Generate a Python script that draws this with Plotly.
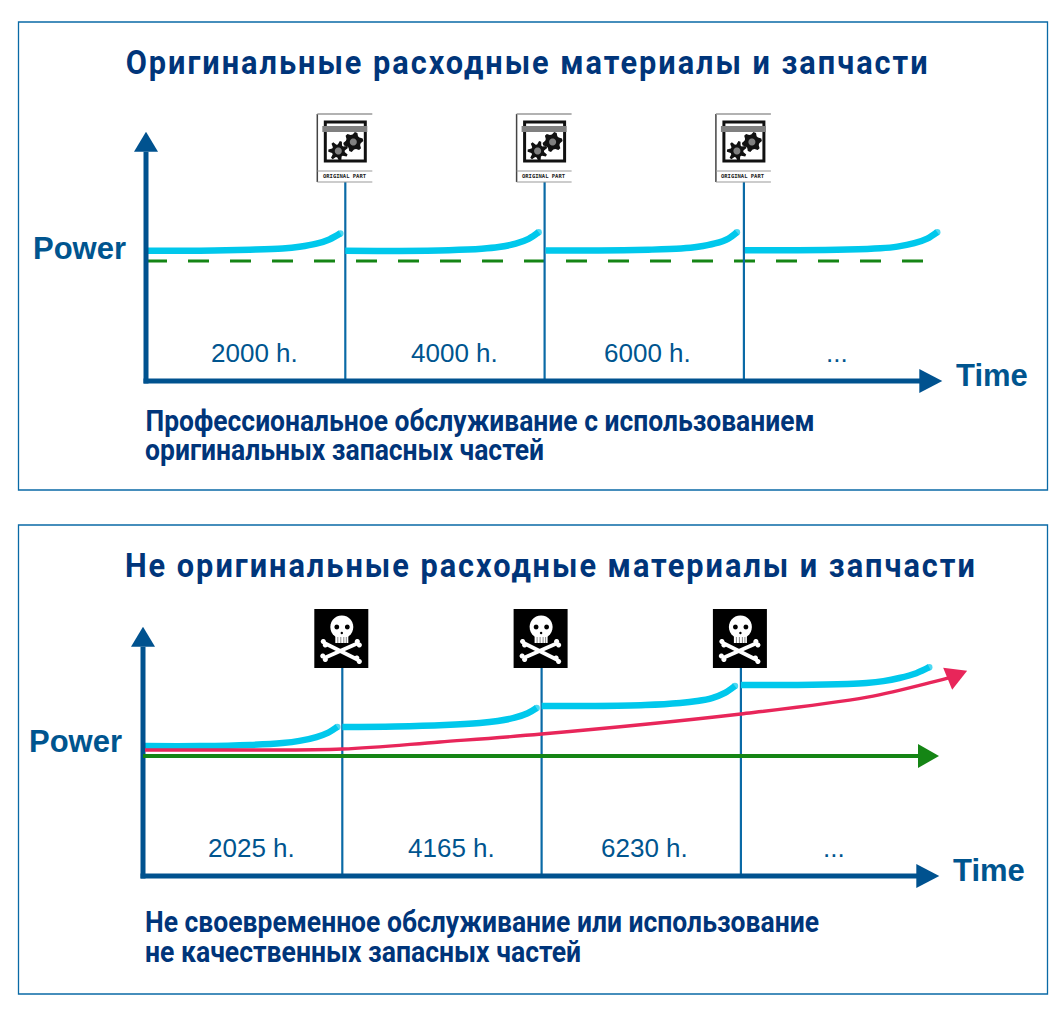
import json
import math
import plotly.graph_objects as go

W, H = 1064, 1020

# ---------- data ----------
service_hours = [2000, 4000, 6000]
axis_end = 7780
y_axis_top = 191
nominal_power = [100, 100]
nominal_hours = [0, 7860]

top_title = "Оригинальные расходные материалы и запчасти"
top_note = ["Профессиональное обслуживание с использованием", "оригинальных запасных частей"]
top_labels = ["2000 h.", "4000 h.", "6000 h.", "..."]
top_seg_hours = [
    [10, 540, 1040, 1370, 1540, 1710, 1840, 1950],
    [2000, 2540, 3040, 3370, 3540, 3710, 3840, 3940],
    [4010, 4540, 5040, 5370, 5540, 5710, 5840, 5930],
    [6010, 6540, 7040, 7370, 7540, 7710, 7840, 7940],
]
top_seg_power = [
    [108.5, 108.6, 109.4, 110.4, 111.8, 114.4, 118, 123],
    [108.5, 108.4, 109, 110.2, 111.6, 114.4, 118.4, 124],
    [108.8, 108.7, 109.4, 110.4, 111.8, 114.6, 118.5, 124],
    [109, 108.9, 109.5, 110.6, 112, 114.8, 118.6, 124],
]

bottom_title = "Не оригинальные расходные материалы и запчасти"
bottom_note = ["Не своевременное обслуживание или использование", "не качественных запасных частей"]
bottom_labels = ["2025 h.", "4165 h.", "6230 h.", "..."]
bottom_seg_hours = [
    [20, 570, 1070, 1400, 1570, 1740, 1860, 1950],
    [2000, 2530, 3030, 3380, 3560, 3730, 3860, 3950],
    [4000, 4540, 5040, 5390, 5560, 5710, 5840, 5940],
    [6000, 6570, 7070, 7260, 7430, 7590, 7760, 7890],
]
bottom_seg_power = [
    [108.3, 108.3, 109.2, 110.8, 112.6, 115.8, 119.5, 124.2],
    [124.2, 124.6, 125.8, 127.5, 129.2, 131.9, 135.6, 140],
    [141.7, 141.7, 142.5, 144.2, 145.8, 148.3, 152.6, 158.3],
    [159.2, 159.2, 160, 160.8, 162.4, 165, 169, 174],
]
red_hours = [20, 1000, 2000, 2980, 4000, 6000, 7270, 7930, 8120]
red_power = [105, 105, 105.8, 111.7, 118.3, 135, 149, 161.7, 166]
green_hours = [0, 7790]
green_power = [100, 100]
label_hours = [1084, 3100, 5028, 6934]

# ---------- colours ----------
AXIS = "#00528f"
LINE = "#0a6aa6"
CYAN = "#00c8ec"
GREEN = "#158515"
RED = "#e8265a"
NAVY = "#00357a"
TEXT = "#00558f"
SANS = "Liberation Sans, sans-serif"
HEAD = "Roboto, Liberation Sans, sans-serif"

PX_PER_HOUR = 199.3 / 2000
PX_PER_POWER = 1.2
X_RANGE = [-500, 8500]
Y_RANGE = [-30, 230]
panels = [
    dict(x0=146, base=381, xa="x", ya="y"),
    dict(x0=143, base=876, xa="x2", ya="y2"),
]


def fx(p):
    return p / W


def fy(p):
    return 1 - p / H


fig = go.Figure()
shapes = []
annotations = []


def poly(pts):
    return "M" + "L".join(f"{a:.1f},{b:.1f}" for a, b in pts) + "Z"


def circle(cx, cy, r):
    n = 28
    return poly([(cx + r * math.cos(2 * math.pi * i / n), cy + r * math.sin(2 * math.pi * i / n))
                 for i in range(n)])


def glyph(panel, hx, pw, path, fill=None, stroke=None, width=0):
    shapes.append(dict(
        type="path", xref=panel["xa"], yref=panel["ya"],
        xsizemode="pixel", ysizemode="pixel", xanchor=hx, yanchor=pw,
        path=path, fillcolor=fill or "rgba(0,0,0,0)",
        line=dict(color=stroke or "rgba(0,0,0,0)", width=width), layer="above"))


def label(panel, hx, pw, text, size, color, bold=False, family=SANS):
    annotations.append(dict(
        xref=panel["xa"], yref=panel["ya"], x=hx, y=pw, text=f"<b>{text}</b>" if bold else text,
        showarrow=False, xanchor="center", yanchor="middle",
        font=dict(family=family, size=size, color=color)))


def gear(cx, cy, r_out, r_in, teeth, rot=0):
    pts = []
    for i in range(teeth * 4):
        a = rot + i * 2 * math.pi / (teeth * 4)
        r = r_out if i % 4 in (0, 1) else r_in
        pts.append((cx + r * math.cos(a), cy + r * math.sin(a)))
    return poly(pts)


def part_icon(panel, hx):
    pw = (panel["base"] - 182) / PX_PER_POWER
    glyph(panel, hx, pw, poly([(-28, 0), (27, 0), (27, 68), (-28, 68)]), fill="#ffffff")
    glyph(panel, hx, pw, "M-28,0L-28,68", stroke="#444444", width=1.5)
    glyph(panel, hx, pw, "M-28,68L27,68", stroke="#999999", width=1.5)
    glyph(panel, hx, pw, "M-28,11L27,11", stroke="#999999", width=1.2)
    glyph(panel, hx, pw, "M-28,0L27,0", stroke="#999999", width=1.2)
    glyph(panel, hx, pw, "M-20,21L20,21L20,60L-20,60Z", stroke="#111111", width=3)
    glyph(panel, hx, pw, poly([(-23, 50), (22, 50), (22, 56), (-23, 56)]), fill="#808080")
    glyph(panel, hx, pw, gear(-7, 31, 10, 6.5, 7, 0.3), fill="#111111")
    glyph(panel, hx, pw, circle(-7, 31, 3.5), fill="#808080")
    glyph(panel, hx, pw, gear(8, 40, 10, 7.5, 6, 0.1), fill="#111111")
    glyph(panel, hx, pw, circle(8, 40, 3.5), fill="#808080")
    label(panel, hx - 0.5 / PX_PER_HOUR, pw + 5.5 / PX_PER_POWER, "ORIGINAL PART", 5.5, "#222222",
          bold=True, family="DejaVu Sans Mono, monospace")


def skull_icon(panel, hx):
    pw = (panel["base"] - 668) / PX_PER_POWER
    glyph(panel, hx, pw, poly([(-28, 0), (26, 0), (26, 59), (-28, 59)]), fill="#000000")
    for a, b in [((-18, 25), (16, 8)), ((16, 25), (-18, 10))]:
        glyph(panel, hx, pw, f"M{a[0]},{a[1]}L{b[0]},{b[1]}", stroke="#ffffff", width=4)
        for cx, cy in ((a[0] - 1, a[1] + 1.5), (a[0] + 1, a[1] - 2), (b[0] - 1.5, b[1] + 2), (b[0] + 1, b[1] - 1.5)):
            glyph(panel, hx, pw, circle(cx, cy, 2.6), fill="#ffffff")
    glyph(panel, hx, pw, circle(-0.5, 41, 11.5), fill="#ffffff")
    glyph(panel, hx, pw, poly([(-7, 25), (6, 25), (6, 34), (-7, 34)]), fill="#ffffff")
    for dx in (-4.5, -1.5, 1.5, 4):
        glyph(panel, hx, pw, f"M{dx},25L{dx},31", stroke="#888888", width=1)
    glyph(panel, hx, pw, circle(-5.5, 41, 2.4), fill="#000000")
    glyph(panel, hx, pw, circle(5, 41, 2.4), fill="#000000")
    glyph(panel, hx, pw, circle(-0.5, 35, 1.2), fill="#000000")


def line(panel, xs, ys, color, width, dash=None, spline=False, name="", end_cap=False):
    mode = "lines+markers" if end_cap else "lines"
    marker = dict(size=[0] * (len(xs) - 1) + [width], color=color, line=dict(width=0)) if end_cap else None
    fig.add_trace(go.Scatter(
        x=xs, y=ys, mode=mode, name=name, xaxis=panel["xa"], yaxis=panel["ya"],
        hoverinfo="skip", showlegend=False, cliponaxis=False, marker=marker,
        line=dict(color=color, width=width, dash=dash, shape="spline" if spline else "linear",
                  smoothing=1.0)))


def draw_panel(panel, seg_h, seg_p, labels, icon):
    for h in service_hours:
        pw_top = (panel["base"] - (182 if icon is part_icon else 668)) / PX_PER_POWER
        line(panel, [h, h], [0, pw_top], LINE, 2.2, name="service")
    for h, p in zip(seg_h, seg_p):
        line(panel, h, p, CYAN, 6.5, spline=True, name="power", end_cap=True)
    for h, t in zip(label_hours, labels):
        label(panel, h, 23, t, 26, TEXT)
    for h in service_hours:
        icon(panel, h)
    line(panel, [0, 0], [-2, y_axis_top], AXIS, 5, name="y axis")
    line(panel, [-25, axis_end], [0, 0], AXIS, 5, name="x axis")
    glyph(panel, 0, y_axis_top, poly([(-12, 0), (12, 0), (0, 20)]), fill=AXIS)
    glyph(panel, axis_end - 20, 0, poly([(0, -12), (0, 12), (23, 0)]), fill=AXIS)


p1, p2 = panels
line(p1, nominal_hours, nominal_power, GREEN, 3, dash="21px,21px", name="nominal")
draw_panel(p1, top_seg_hours, top_seg_power, top_labels, part_icon)
draw_panel(p2, bottom_seg_hours, bottom_seg_power, bottom_labels, skull_icon)
line(p2, red_hours, red_power, RED, 3.4, spline=True, name="degraded")
line(p2, green_hours, green_power, GREEN, 4, name="nominal")
glyph(p2, green_hours[1] - 13, green_power[1], poly([(0, -12), (0, 12), (21, 0)]), fill=GREEN)
glyph(p2, red_hours[-1], red_power[-1], poly([(-9, 9), (15, 6), (0, -13)]), fill=RED)


def page_text(x, y, text, size, color, family=SANS):
    annotations.append(dict(
        xref="paper", yref="paper", x=fx(x), y=fy(y), text=f"<b>{text}</b>",
        showarrow=False, xanchor="center", yanchor="middle",
        font=dict(family=family, size=size, color=color)))


# condensed headings: (centre x, centre y, text, size, fitted width, letter spacing)
headings = [
    (527, 62, top_title, 34, 804, 2.2),
    (551, 565, bottom_title, 34, 852, 2.2),
    (479.5, 421, top_note[0], 29, 669, 0),
    (344.5, 450, top_note[1], 29, 399, 0),
    (482, 922, bottom_note[0], 29, 674, 0),
    (363, 952, bottom_note[1], 29, 436, 0),
]
for cx, cy, t, s, _, _ in headings:
    page_text(cx, cy, t, s, NAVY, HEAD)

page_text(79, 248, "Power", 31, TEXT)
page_text(992, 375, "Time", 31, TEXT)
page_text(75, 741, "Power", 31, TEXT)
page_text(989, 870, "Time", 31, TEXT)

for top, bottom in [(22, 490), (525, 994)]:
    shapes.append(dict(type="rect", xref="paper", yref="paper", x0=fx(18.5), x1=fx(1047.5),
                       y0=fy(bottom), y1=fy(top), line=dict(color="#0a6aa6", width=1.3), layer="below"))


def axis_layout(panel, xname, yname):
    xa = dict(range=X_RANGE, visible=False, fixedrange=True, anchor=yname,
              domain=[fx(panel["x0"] + X_RANGE[0] * PX_PER_HOUR), fx(panel["x0"] + X_RANGE[1] * PX_PER_HOUR)])
    ya = dict(range=Y_RANGE, visible=False, fixedrange=True, anchor=xname,
              domain=[fy(panel["base"] - Y_RANGE[0] * PX_PER_POWER), fy(panel["base"] - Y_RANGE[1] * PX_PER_POWER)])
    return xa, ya


x1, y1 = axis_layout(p1, "x", "y")
x2, y2 = axis_layout(p2, "x2", "y2")

fig.update_layout(
    width=W, height=H, autosize=False, margin=dict(l=0, r=0, t=0, b=0, pad=0),
    paper_bgcolor="#ffffff", plot_bgcolor="rgba(0,0,0,0)", showlegend=False,
    xaxis=x1, yaxis=y1, xaxis2=x2, yaxis2=y2, shapes=shapes, annotations=annotations)

fit = {t: (w, sp) for _, _, t, _, w, sp in headings}
post = """
document.body.style.margin='0';
var fit = %s;
document.querySelectorAll('.annotation-text').forEach(function(t){
  var f = fit[t.textContent];
  if(!f) return;
  t.style.letterSpacing = f[1] + 'px';
  t.setAttribute('textLength', f[0]);
  t.setAttribute('lengthAdjust', 'spacingAndGlyphs');
});
""" % json.dumps(fit, ensure_ascii=False)
fig.write_html("out.html", post_script=post, config=dict(displayModeBar=False))
